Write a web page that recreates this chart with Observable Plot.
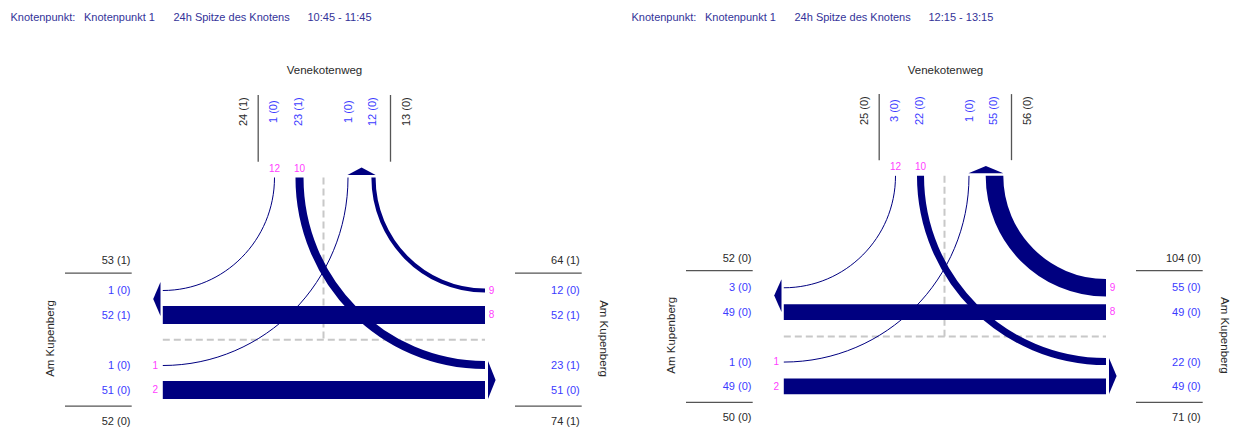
<!DOCTYPE html>
<html><head><meta charset="utf-8">
<script src="https://cdn.jsdelivr.net/npm/d3@7"></script>
<script src="https://cdn.jsdelivr.net/npm/@observablehq/plot@0.6"></script>
<style>
body{margin:0;background:#fff;font-family:"Liberation Sans",Arial,sans-serif}
#wrap{display:flex;width:1236px;height:428px;overflow:hidden}
#wrap svg{display:block;flex:none}
</style></head><body><div id="wrap"></div>
<script>
// ---------- data ----------
const titleLabels = ["Knotenpunkt:", "Knotenpunkt 1", "24h Spitze des Knotens"];
const periods = ["10:45 - 11:45", "12:15 - 13:15"];
const roadNorth = "Venekotenweg";
const roadWestEast = "Am Kupenberg";
const streamIds  = [1, 2, 8, 9, 10, 12];
const streamFrom = ["W", "W", "E", "E", "N", "N"];
const streamTo   = ["N", "E", "W", "N", "E", "W"];
const volumes1 = [1, 51, 52, 12, 23, 1];
const heavy1   = [0, 0, 1, 0, 1, 0];
const volumes2 = [1, 49, 49, 55, 22, 3];
const heavy2   = [0, 0, 0, 0, 0, 0];

// ---------- layout (diagram units) ----------
const panelWidths = [621, 615];
const panelYScale = [1, 0.9906];
const pxPerVehicle = [0.35, 0.32];
const titleX = [10, 83.5, 173, 307];
const xW = 162.3, xE = 484.5, yTop = 177;
const laneTopX  = {12: 274, 10: 299, 1: 347.5, 9: 373};
const laneWestY = {12: 290, 8: 314.5, 1: 365, 2: 389.5};
const laneEastY = {9: 290, 8: 314.5, 10: 364.5, 2: 389.5};
const dashX = 323, dashY = 339.3;

const NAVY = "#000080", BLUE = "#3b3bff", PINK = "#ff40ff", DARK = "#2a2a2a", TITLE = "#333399", SEP = "#555";
const FONT = "Liberation Sans, Arial, sans-serif";
const K = 0.5523;

// quarter-ellipse curve: first point is on the north edge (vertical tangent), second on a side (horizontal tangent)
function quarterCurve(context) {
  let pts = [];
  return {
    areaStart() {}, areaEnd() {},
    lineStart() { pts = []; },
    point(x, y) { pts.push([+x, +y]); },
    lineEnd() {
      if (pts.length < 2) return;
      const [[x0, y0], [x1, y1]] = pts;
      context.moveTo(x0, y0);
      context.bezierCurveTo(x0, y0 + K * (y1 - y0), x1 + K * (x0 - x1), y1, x1, y1);
    }
  };
}

function pt(side, id) {
  if (side === "N") return [laneTopX[id], yTop];
  if (side === "W") return [xW, laneWestY[id]];
  return [xE, laneEastY[id]];
}

function panel(pi) {
  const width = panelWidths[pi];
  const vols = pi === 0 ? volumes1 : volumes2;
  const heav = pi === 0 ? heavy1 : heavy2;
  const k = pxPerVehicle[pi];
  const streams = streamIds.map((id, i) => {
    const s = {id, from: streamFrom[i], to: streamTo[i], v: vols[i], h: heav[i]};
    s.w = Math.max(1, s.v * k);
    const a = pt(s.from, id), b = pt(s.to, id);
    if (s.to === "N") { s.p1 = b; s.p2 = a; } else { s.p1 = a; s.p2 = b; }
    s.turn = s.from === "N" || s.to === "N";
    s.label = `${s.v} (${s.h})`;
    return s;
  });
  const byId = Object.fromEntries(streams.map(s => [s.id, s]));
  const total = (f) => {
    const ss = streams.filter(f);
    return `${d3.sum(ss, s => s.v)} (${d3.sum(ss, s => s.h)})`;
  };
  const inN = total(s => s.from === "N"), outN = total(s => s.to === "N");
  const inW = total(s => s.from === "W"), outW = total(s => s.to === "W");
  const inE = total(s => s.from === "E"), outE = total(s => s.to === "E");

  // arrows
  const arrows = [];
  {
    const ss = streams.filter(s => s.to === "N");
    const l = d3.min(ss, s => laneTopX[s.id] - s.w / 2), r = d3.max(ss, s => laneTopX[s.id] + s.w / 2);
    const yb = yTop - 2.5;
    arrows.push({a: "N", x: l, y: yb}, {a: "N", x: r, y: yb}, {a: "N", x: (l + r) / 2, y: yb - 7.5});
  }
  {
    const ss = streams.filter(s => s.to === "W");
    const t = d3.min(ss, s => laneWestY[s.id] - s.w / 2) - 8, b = d3.max(ss, s => laneWestY[s.id] + s.w / 2) - 8;
    const xb = xW - 2.3;
    arrows.push({a: "W", x: xb, y: t}, {a: "W", x: xb, y: b}, {a: "W", x: xb - 7.3, y: (t + b) / 2});
  }
  {
    const ss = streams.filter(s => s.to === "E");
    const t = d3.min(ss, s => laneEastY[s.id] - s.w / 2), b = d3.max(ss, s => laneEastY[s.id] + s.w / 2);
    const xb = xE + 3;
    arrows.push({a: "E", x: xb, y: t}, {a: "E", x: xb, y: b}, {a: "E", x: xb + 7.6, y: (t + b) / 2});
  }

  const titles = [...titleLabels, periods[pi]].map((t, i) => ({t, x: titleX[i]}));

  const topLabels = [
    {t: inN, x: 242.5, c: DARK},
    {t: byId[12].label, x: laneTopX[12] - 0.8, c: BLUE},
    {t: byId[10].label, x: laneTopX[10] - 1.2, c: BLUE},
    {t: byId[1].label, x: laneTopX[1], c: BLUE},
    {t: byId[9].label, x: laneTopX[9] - 0.6, c: BLUE},
    {t: outN, x: 406, c: DARK}
  ];
  const westLabels = [
    {t: outW, y: 260, c: DARK},
    {t: byId[12].label, y: laneWestY[12], c: BLUE},
    {t: byId[8].label, y: laneWestY[8] + 0.5, c: BLUE},
    {t: byId[1].label, y: laneWestY[1], c: BLUE},
    {t: byId[2].label, y: laneWestY[2] + 0.5, c: BLUE},
    {t: inW, y: 420.7, c: DARK}
  ];
  const eastLabels = [
    {t: inE, y: 260, c: DARK},
    {t: byId[9].label, y: laneEastY[9], c: BLUE},
    {t: byId[8].label, y: laneEastY[8] + 0.5, c: BLUE},
    {t: byId[10].label, y: laneEastY[10] + 0.5, c: BLUE},
    {t: byId[2].label, y: laneEastY[2] + 0.5, c: BLUE},
    {t: outE, y: 420.7, c: DARK}
  ];
  const pinkTop = streams.filter(s => s.from === "N").map(s => ({t: String(s.id), x: laneTopX[s.id]}));
  const pinkW = streams.filter(s => s.from === "W").map(s => ({t: String(s.id), y: laneWestY[s.id]}));
  const pinkE = streams.filter(s => s.from === "E").map(s => ({t: String(s.id), y: laneEastY[s.id]}));

  const seps = [{x: 257.7}, {x: 390}];
  const sideRules = [
    {y: 272.7, x1: 65, x2: 131.7}, {y: 405.7, x1: 65, x2: 131.7},
    {y: 272.7, x1: 515, x2: 581.7}, {y: 405.7, x1: 515, x2: 581.7}
  ];

  return Plot.plot({
    width, height: 428,
    margin: 0,
    style: {fontFamily: FONT, background: "#fff", overflow: "visible"},
    x: {domain: [0, width], range: [0, width], axis: null},
    y: {domain: [0, 428], range: [0, 428 * panelYScale[pi]], axis: null},
    marks: [
      // dashed guides
      Plot.link([{x1: dashX, y1: yTop, x2: dashX, y2: dashY}, {x1: xW, y1: dashY, x2: xE, y2: dashY}],
        {x1: "x1", y1: "y1", x2: "x2", y2: "y2", stroke: "#c8c8c8", strokeWidth: 2, strokeDasharray: "7,4"}),
      // straight streams
      Plot.link(streams.filter(s => !s.turn), {
        x1: s => s.p1[0], y1: s => s.p1[1], x2: s => s.p2[0], y2: s => s.p2[1],
        stroke: NAVY, strokeWidth: s => s.w, strokeLinecap: "butt"
      }),
      // turning streams
      Plot.link(streams.filter(s => s.turn), {
        x1: s => s.p1[0], y1: s => s.p1[1], x2: s => s.p2[0], y2: s => s.p2[1],
        stroke: NAVY, strokeWidth: s => s.w, strokeLinecap: "butt", curve: quarterCurve
      }),
      // exit arrows
      Plot.line(arrows, {x: "x", y: "y", z: "a", fill: NAVY, stroke: "none", curve: "linear-closed"}),
      // separators
      Plot.ruleX(seps, {x: "x", y1: 95, y2: 161.7, stroke: SEP, strokeWidth: 1.3}),
      Plot.ruleY(sideRules, {y: "y", x1: "x1", x2: "x2", stroke: SEP, strokeWidth: 1.3}),
      // titles
      Plot.text(titles, {x: "x", y: 17, text: "t", textAnchor: "start", fill: TITLE, fontSize: 11}),
      // road names
      Plot.text([roadNorth], {x: 324, y: 70, text: d => d, fill: DARK, fontSize: 11.5}),
      Plot.text([roadWestEast], {x: 50, y: 338, text: d => d, fill: DARK, fontSize: 11.5, rotate: -90}),
      Plot.text([roadWestEast], {x: 603, y: 338, text: d => d, fill: DARK, fontSize: 11.5, rotate: 90}),
      // numeric labels
      Plot.text(topLabels, {x: "x", y: 111.2, text: "t", fill: "c", fontSize: 11, rotate: -90}),
      Plot.text(westLabels, {x: 130, y: "y", text: "t", fill: "c", fontSize: 11, textAnchor: "end"}),
      Plot.text(eastLabels, {x: 579.3, y: "y", text: "t", fill: "c", fontSize: 11, textAnchor: "end"}),
      // stream numbers
      Plot.text(pinkTop, {x: "x", y: 168.3, text: "t", fill: PINK, fontSize: 10}),
      Plot.text(pinkW, {x: 157.5, y: "y", text: "t", fill: PINK, fontSize: 10, textAnchor: "end"}),
      Plot.text(pinkE, {x: 488.3, y: "y", text: "t", fill: PINK, fontSize: 10, textAnchor: "start"})
    ]
  });
}

const wrap = document.getElementById("wrap");
wrap.append(panel(0), panel(1));
</script>
</body></html>
